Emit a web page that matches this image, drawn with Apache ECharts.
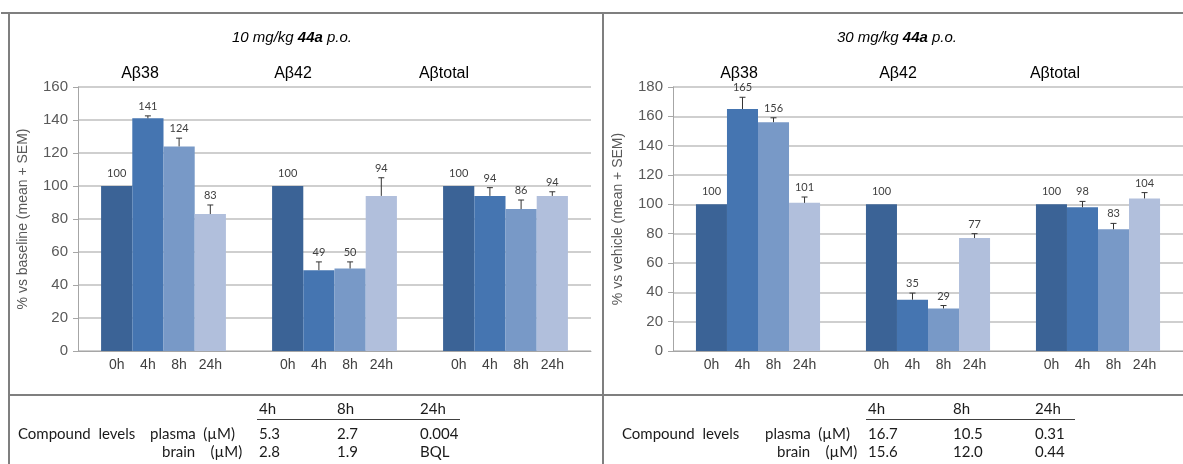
<!DOCTYPE html>
<html>
<head>
<meta charset="utf-8">
<script src="https://cdn.jsdelivr.net/npm/echarts@6/dist/echarts.min.js"></script>
<style>
html,body{margin:0;padding:0;background:#fff;}
#chart{width:1183px;height:464px;}
</style>
</head>
<body>
<div id="chart"></div>
<script>
// ---- data ----
const groups = ['Aβ38', 'Aβ42', 'Aβtotal'];
const timepoints = ['0h', '4h', '8h', '24h'];

// 10 mg/kg panel (% vs baseline)
const dose10_0h  = [100, 100, 100];
const dose10_4h  = [141, 49, 94];
const dose10_8h  = [124, 50, 86];
const dose10_24h = [83, 94, 94];
const sem10_0h   = [0, 0, 0];
const sem10_4h   = [1.5, 5, 5];
const sem10_8h   = [5, 4, 5.5];
const sem10_24h  = [5.5, 11, 2.5];

// 30 mg/kg panel (% vs vehicle)
const dose30_0h  = [100, 100, 100];
const dose30_4h  = [165, 35, 98];
const dose30_8h  = [156, 29, 83];
const dose30_24h = [101, 77, 104];
const sem30_0h   = [0, 0, 0];
const sem30_4h   = [8, 4.5, 4];
const sem30_8h   = [3, 2, 4];
const sem30_24h  = [4, 3, 4];

const yTicks10 = [0, 20, 40, 60, 80, 100, 120, 140, 160];
const yTicks30 = [0, 20, 40, 60, 80, 100, 120, 140, 160, 180];

// compound level tables
const tableHeaders = ['4h', '8h', '24h'];
const plasma10 = ['5.3', '2.7', '0.004'];
const brain10  = ['2.8', '1.9', 'BQL'];
const plasma30 = ['16.7', '10.5', '0.31'];
const brain30  = ['15.6', '12.0', '0.44'];

// ---- styles ----
const colors = ['#3b6396', '#4575b1', '#7899c7', '#b1bfdc'];
const gapFrac = 0.27;

const vals10 = [dose10_0h, dose10_4h, dose10_8h, dose10_24h];
const sems10 = [sem10_0h, sem10_4h, sem10_8h, sem10_24h];
const vals30 = [dose30_0h, dose30_4h, dose30_8h, dose30_24h];
const sems30 = [sem30_0h, sem30_4h, sem30_8h, sem30_24h];

function barSeries(vals, axisIdx) {
  return vals.map((arr, t) => ({
    type: 'bar', name: timepoints[t] + '_' + axisIdx,
    xAxisIndex: axisIdx, yAxisIndex: axisIdx,
    data: arr, barGap: '0%', barCategoryGap: (gapFrac * 100) + '%',
    itemStyle: { color: colors[t] }, silent: true, animation: false
  }));
}

function errData(vals, sems) {
  const out = [];
  vals.forEach((arr, t) => arr.forEach((v, g) => out.push([g, t, v, sems[t][g]])));
  return out;
}

function renderErr(params, api) {
  const g = api.value(0), t = api.value(1), v = api.value(2), s = api.value(3);
  const base = api.coord([g, 0]);
  const bandW = api.size([1, 0])[0];
  const bw = bandW * (1 - gapFrac) / 4;
  const x = base[0] + (t - 1.5) * bw;
  const top = api.coord([g, v])[1];
  const children = [];
  let labelY = top - 7;
  if (s > 0) {
    const et = api.coord([g, v + s])[1];
    children.push({ type: 'line', shape: { x1: x, y1: top, x2: x, y2: et }, style: { stroke: '#333', lineWidth: 1 } });
    children.push({ type: 'line', shape: { x1: x - 3, y1: et, x2: x + 3, y2: et }, style: { stroke: '#333', lineWidth: 1 } });
    labelY = et - 4;
  }
  children.push({ type: 'text', style: { text: String(v), x: x, y: labelY, align: 'center', verticalAlign: 'bottom', font: '11px Lato', fill: '#404040' } });
  children.push({ type: 'text', style: { text: timepoints[t], x: x, y: base[1] + 7, align: 'center', verticalAlign: 'top', font: '14px "Liberation Sans"', fill: '#404040' } });
  return { type: 'group', children: children };
}

function yAxis(idx, max, name) {
  return {
    type: 'value', gridIndex: idx, min: 0, max: max, interval: 20,
    name: name, nameLocation: 'middle', nameGap: 48, nameRotate: 90,
    nameTextStyle: { fontFamily: 'Liberation Sans', fontSize: 14, color: '#595959' },
    axisLine: { show: true, lineStyle: { color: '#a6a6a6', width: 1 } },
    axisTick: { show: true, length: 5, lineStyle: { color: '#a6a6a6' } },
    axisLabel: { fontFamily: 'Liberation Sans', fontSize: 15, color: '#595959', margin: 10 },
    splitLine: { show: true, lineStyle: { color: '#bfbfbf', width: 1.5 } }
  };
}
function xAxis(idx) {
  return {
    type: 'category', gridIndex: idx, data: groups,
    axisLine: { show: true, lineStyle: { color: '#a6a6a6' } },
    axisTick: { show: false }, axisLabel: { show: false }
  };
}

const txt = (x, y, text, opts) => Object.assign({
  type: 'text', x: x, y: y, silent: true,
  style: Object.assign({ text: text, font: '15px Lato', fill: '#1a1a1a', align: 'left', verticalAlign: 'middle' }, opts || {})
});
const ln = (x1, y1, x2, y2, w, c) => ({ type: 'line', silent: true, shape: { x1, y1, x2, y2 }, style: { stroke: c || '#7f7f7f', lineWidth: w || 2 } });

function table(xs, xLab, plasma, brain) {
  const els = [];
  tableHeaders.forEach((h, i) => els.push(txt(xs[i], 409, h)));
  els.push(ln(xs[0] - 2, 419.5, xs[2] + 40, 419.5, 1.2, '#404040'));
  els.push(txt(xLab[0], 434, 'Compound  levels'));
  els.push(txt(xLab[1], 434, 'plasma  (µM)'));
  els.push(txt(xLab[1] + 12, 452, 'brain    (µM)'));
  plasma.forEach((v, i) => els.push(txt(xs[i], 434, v)));
  brain.forEach((v, i) => els.push(txt(xs[i], 452, v)));
  return els;
}

const headerStyle = { font: '16px "Liberation Sans"', fill: '#000', align: 'center' };
const titleRich = { i: { font: 'italic 15px "Liberation Sans"', fill: '#000' }, b: { font: 'italic bold 15px "Liberation Sans"', fill: '#000' } };
const graphics = [
  ln(1, 13, 1183, 13), ln(9, 13, 9, 464), ln(603, 13, 603, 464), ln(9, 395, 1183, 395),
  { type: 'text', x: 292, y: 38, silent: true, style: { text: '{i|10 mg/kg }{b|44a}{i| p.o.}', align: 'center', verticalAlign: 'middle', rich: titleRich } },
  { type: 'text', x: 897, y: 38, silent: true, style: { text: '{i|30 mg/kg }{b|44a}{i| p.o.}', align: 'center', verticalAlign: 'middle', rich: titleRich } },
  txt(140, 74, groups[0], headerStyle), txt(293, 74, groups[1], headerStyle), txt(444, 74, groups[2], headerStyle),
  txt(739, 74, groups[0], headerStyle), txt(898, 74, groups[1], headerStyle), txt(1055, 74, groups[2], headerStyle)
].concat(table([259, 337, 420], [18, 150], plasma10, brain10))
 .concat(table([868, 953, 1035], [622, 765], plasma30, brain30));

const chart = echarts.init(document.getElementById('chart'), null, { renderer: 'canvas' });
chart.setOption({
  animation: false,
  backgroundColor: '#fff',
  grid: [
    { left: 78, top: 87, width: 513, height: 264 },
    { left: 673, top: 87, width: 513, height: 264 }
  ],
  xAxis: [xAxis(0), xAxis(1)],
  yAxis: [yAxis(0, 160, '% vs baseline (mean + SEM)'), yAxis(1, 180, '% vs vehicle (mean + SEM)')],
  series: barSeries(vals10, 0).concat(barSeries(vals30, 1)).concat([
    { type: 'custom', xAxisIndex: 0, yAxisIndex: 0, data: errData(vals10, sems10), renderItem: renderErr, encode: { x: 0, y: 2 }, silent: true, z: 5, clip: false },
    { type: 'custom', xAxisIndex: 1, yAxisIndex: 1, data: errData(vals30, sems30), renderItem: renderErr, encode: { x: 0, y: 2 }, silent: true, z: 5, clip: false }
  ]),
  graphic: graphics
});
</script>
</body>
</html>
